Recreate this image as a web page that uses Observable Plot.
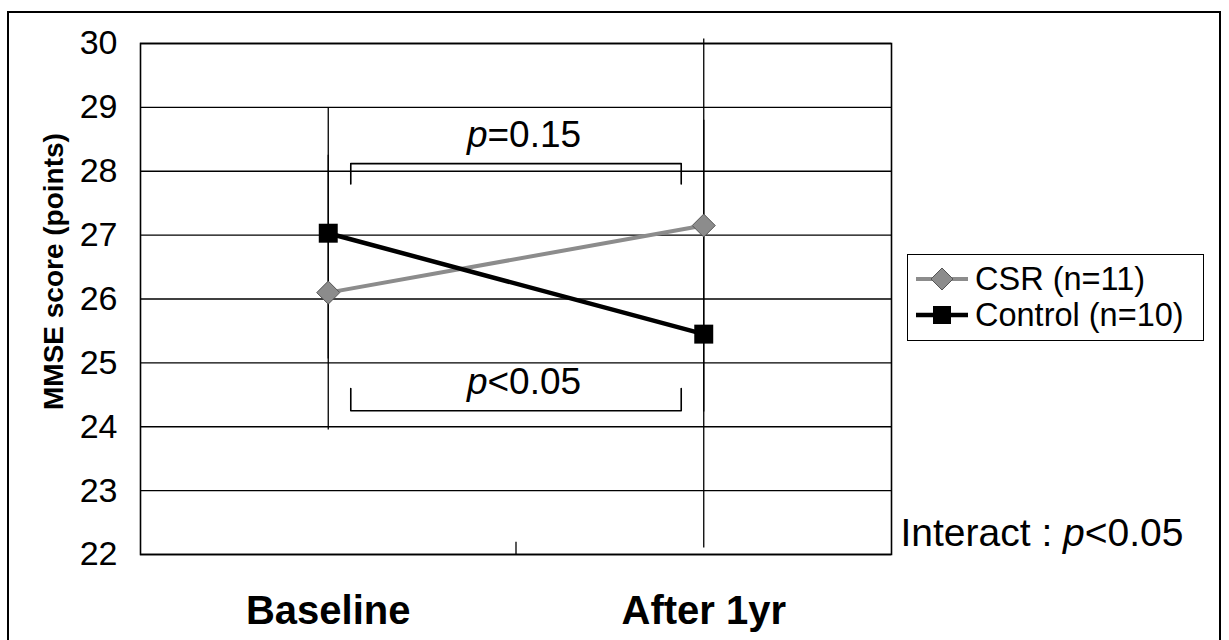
<!DOCTYPE html>
<html>
<head>
<meta charset="utf-8">
<script src="https://cdn.jsdelivr.net/npm/d3@7"></script>
<script src="https://cdn.jsdelivr.net/npm/@observablehq/plot@0.6"></script>
<style>
  html, body { margin: 0; padding: 0; background: #fff; }
  #wrap { position: relative; width: 1229px; height: 640px; overflow: hidden; font-family: "Liberation Sans", Arial, Helvetica, sans-serif; }
  #border { position: absolute; left: 7px; top: 11px; width: 1214px; height: 700px; border: 2px solid #000; box-sizing: border-box; pointer-events: none; }
  #legend { position: absolute; left: 907px; top: 254px; width: 297px; height: 87px; border: 1.5px solid #000; box-sizing: border-box; background: #fff; }
  .lrow { position: absolute; left: 0; height: 36px; display: flex; align-items: center; }
  .lrow svg { display: block; }
  .lrow span { font-size: 32.5px; color: #000; margin-left: 5px; white-space: nowrap; }
</style>
</head>
<body>
<div id="wrap">
  <div id="chart"></div>
  <div id="border"></div>
  <div id="legend"></div>
</div>
<script>
// ---- data ----
const categories = ["Baseline", "After 1yr"];
const seriesNames = ["CSR (n=11)", "Control (n=10)"];
const csrMean = [26.1, 27.15];
const csrErr = [2.15, 2.92];
const controlMean = [27.03, 25.45];
const controlErr = [1.97, 3.35];
const yTicks = [22, 23, 24, 25, 26, 27, 28, 29, 30];
const pLabels = ["p=0.15", "p<0.05"];
const pLabelX = [1, 1];
const pLabelY = [28.56, 24.70];
const bracketX = [0.56, 0.56, 1.44, 1.44];
const upperBracketY = [27.8, 28.12, 28.12, 27.8];
const lowerBracketY = [24.6, 24.25, 24.25, 24.6];
const interactText = ["Interact : p<0.05"];
const yLabel = ["MMSE score (points)"];

const csrColor = "#8c8c8c";
const controlColor = "#000000";

const rows = categories.flatMap((c, i) => [
  {series: "CSR", x: i + 0.5, y: csrMean[i], err: csrErr[i]},
  {series: "Control", x: i + 0.5, y: controlMean[i], err: controlErr[i]}
]);
const csrRows = rows.filter(d => d.series === "CSR");
const controlRows = rows.filter(d => d.series === "Control");

// rotated-square diamond symbol
const diamondSym = {
  draw(ctx, size) {
    const r = Math.sqrt(size / 2);
    ctx.moveTo(0, -r); ctx.lineTo(r, 0); ctx.lineTo(0, r); ctx.lineTo(-r, 0); ctx.closePath();
  }
};

const font = "'Liberation Sans', Arial, Helvetica, sans-serif";

const chart = Plot.plot({
  width: 1229,
  height: 640,
  marginLeft: 140,
  marginRight: 338,
  marginTop: 43,
  marginBottom: 86,
  style: {fontFamily: font, color: "#000", background: "transparent", overflow: "visible"},
  x: {type: "linear", domain: [0, 2]},
  y: {domain: [22, 30]},
  marks: [
    Plot.ruleY(yTicks, {stroke: "#000", strokeWidth: 1.3}),
    Plot.frame({stroke: "#000", strokeWidth: 1.6}),
    Plot.ruleX([1], {y1: 22, y2: 22.19, stroke: "#000", strokeWidth: 1.3}),
    Plot.axisY({ticks: yTicks, tickSize: 0, tickPadding: 23, fontSize: 34, label: null}),
    Plot.axisX({ticks: [0.5, 1.5], tickFormat: d => categories[Math.floor(d)], tickSize: 0, tickPadding: 41, fontSize: 40, fontWeight: "bold", label: null}),
    Plot.text(yLabel, {x: [0], y: [26.43], rotate: -90, dx: -86, fontSize: 28, fontWeight: "bold", clip: false}),
    // error bars
    Plot.ruleX(rows, {x: "x", y1: d => d.y - d.err, y2: d => d.y + d.err, stroke: "#000", strokeWidth: 1.3, clip: false}),
    // significance brackets
    Plot.line(upperBracketY, {x: bracketX, y: upperBracketY, stroke: "#000", strokeWidth: 1.6}),
    Plot.line(lowerBracketY, {x: bracketX, y: lowerBracketY, stroke: "#000", strokeWidth: 1.6}),
    Plot.text(pLabels, {x: pLabelX, y: pLabelY, dx: 8, fontSize: 37, className: "ptext"}),
    // series lines
    Plot.line(csrRows, {x: "x", y: "y", stroke: csrColor, strokeWidth: 4}),
    Plot.line(controlRows, {x: "x", y: "y", stroke: controlColor, strokeWidth: 4.5}),
    Plot.dot(csrRows, {x: "x", y: "y", symbol: diamondSym, r: 9.2, fill: csrColor, stroke: "#555", strokeWidth: 1}),
    Plot.dot(controlRows, {x: "x", y: "y", symbol: "square", r: 10.7, fill: controlColor, stroke: "none"}),
    Plot.text(interactText, {x: [2], y: [22.33], dx: 9, textAnchor: "start", fontSize: 39, className: "ptext"})
  ]
});
document.getElementById("chart").appendChild(chart);

// italic "p"
d3.select(chart).selectAll(".ptext text").each(function () {
  const t = this.textContent;
  const m = t.match(/^(.*?)(p)([<=].*)$/);
  if (!m) return;
  const sel = d3.select(this);
  sel.text(null);
  if (m[1]) sel.append("tspan").text(m[1]);
  sel.append("tspan").attr("font-style", "italic").text(m[2]);
  sel.append("tspan").text(m[3]);
});

// legend
const legend = d3.select("#legend");
const legendSpecs = [
  {name: seriesNames[0], color: csrColor, sym: "diamond", top: 6},
  {name: seriesNames[1], color: controlColor, sym: "square", top: 42}
];
legendSpecs.forEach(s => {
  const row = legend.append("div").attr("class", "lrow").style("top", s.top + "px").style("left", "6px");
  const svg = row.append("svg").attr("width", 56).attr("height", 36);
  svg.append("line").attr("x1", 2).attr("x2", 54).attr("y1", 18).attr("y2", 18)
    .attr("stroke", s.color).attr("stroke-width", s.sym === "square" ? 4.5 : 4);
  if (s.sym === "diamond") {
    svg.append("path").attr("d", "M28,7L39,18L28,29L17,18Z").attr("fill", s.color).attr("stroke", "#555").attr("stroke-width", 1);
  } else {
    svg.append("rect").attr("x", 19).attr("y", 9).attr("width", 18).attr("height", 18).attr("fill", s.color);
  }
  row.append("span").text(s.name);
});
</script>
</body>
</html>
